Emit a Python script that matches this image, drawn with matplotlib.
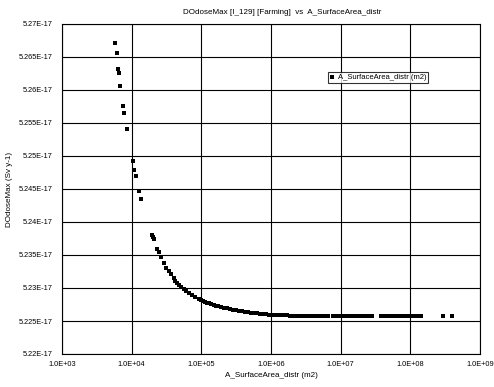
import matplotlib
matplotlib.use("Agg")
import matplotlib.pyplot as plt
from matplotlib.ticker import FixedLocator, FuncFormatter

plt.rcParams['font.family'] = ['Liberation Sans', 'DejaVu Sans']

title = "DOdoseMax [I_129] [Farming]  vs  A_SurfaceArea_distr"
xlabel = "A_SurfaceArea_distr (m2)"
ylabel = "DOdoseMax (Sv y-1)"
series_name = "A_SurfaceArea_distr (m2)"

surface_area = [
    5.82e3, 6.07e3, 6.43e3, 6.49e3, 6.87e3, 7.57e3, 7.83e3, 8.57e3,
    1.03e4, 1.08e4, 1.14e4, 1.26e4, 1.34e4, 1.95e4, 2.00e4, 2.06e4,
    2.31e4, 2.43e4, 2.63e4, 2.87e4, 3.13e4, 3.38e4, 3.66e4, 3.99e4,
    4.22e4, 4.47e4, 4.82e4, 5.15e4, 5.56e4, 6.01e4, 6.55e4, 7.33e4,
    8.17e4, 9.12e4,
    9.97e4, 1.06e5, 1.14e5, 1.22e5, 1.30e5, 1.39e5, 1.53e5, 1.64e5,
    1.75e5, 1.93e5, 2.13e5, 2.35e5, 2.59e5, 2.86e5, 3.16e5, 3.49e5,
    3.86e5, 4.26e5, 4.71e5, 5.20e5, 5.74e5, 6.34e5, 7.00e5, 7.73e5,
    8.53e5, 9.42e5, 1.04e6, 1.15e6, 1.27e6, 1.40e6, 1.55e6, 1.71e6,
    1.88e6, 2.08e6, 2.30e6, 2.62e6, 2.90e6, 3.20e6, 3.53e6, 3.90e6,
    4.45e6, 5.08e6, 5.80e6, 6.61e6, 7.80e6, 8.91e6, 1.02e7, 1.16e7,
    1.32e7, 1.51e7, 1.73e7, 1.97e7, 2.24e7, 2.56e7, 2.83e7, 3.81e7,
    4.35e7, 4.96e7, 5.66e7, 6.47e7, 7.38e7, 8.42e7, 9.61e7, 1.10e8,
    1.25e8, 1.43e8, 2.95e8, 3.97e8,
]

dose_max = [
    5.26717, 5.26565, 5.26318, 5.26258, 5.26065, 5.25762, 5.25647, 5.25414,
    5.24920, 5.24788, 5.24690, 5.24465, 5.24353, 5.23803, 5.23780, 5.23743,
    5.23591, 5.23550, 5.23475, 5.23374, 5.23308, 5.23262, 5.23212, 5.23147,
    5.23106, 5.23080, 5.23046, 5.23020, 5.22985, 5.22955, 5.22929, 5.22894,
    5.22860, 5.22834,
    5.22820, 5.22800, 5.22790, 5.22780, 5.22770, 5.22760, 5.22740, 5.22730,
    5.22720, 5.22710, 5.22700, 5.22690, 5.22680, 5.22670, 5.22660, 5.22655,
    5.22650, 5.22640, 5.22630, 5.22625, 5.22620, 5.22615, 5.22610, 5.22605,
    5.22600, 5.22597, 5.22594, 5.22591, 5.22589, 5.22587, 5.22585, 5.22584,
    5.22583, 5.22582, 5.22581, 5.22580, 5.22579, 5.22579, 5.22578, 5.22578,
    5.22577, 5.22577, 5.22577, 5.22576, 5.22576, 5.22576, 5.22576, 5.22576,
    5.22576, 5.22576, 5.22576, 5.22576, 5.22576, 5.22576, 5.22576, 5.22576,
    5.22576, 5.22576, 5.22576, 5.22576, 5.22576, 5.22576, 5.22576, 5.22576,
    5.22576, 5.22576, 5.22576, 5.22576,
]
dose_scale = 1e-17

x_ticks = [1e3, 1e4, 1e5, 1e6, 1e7, 1e8, 1e9]
y_ticks = [5.22, 5.225, 5.23, 5.235, 5.24, 5.245, 5.25, 5.255, 5.26, 5.265, 5.27]

W, H = 494, 387
fig = plt.figure(figsize=(W / 100, H / 100), dpi=100)
ax = fig.add_axes([62 / W, 1 - 354 / H, (480 - 62) / W, (354 - 24) / H])

yvals = [v * dose_scale for v in dose_max]
ax.plot(surface_area, yvals, linestyle='none', marker='s', markersize=2.6,
        color='black', markeredgewidth=0, label=series_name)

ax.set_xscale('log')
ax.set_xlim(1e3, 1e9)
ax.set_ylim(y_ticks[0] * dose_scale, y_ticks[-1] * dose_scale)
ax.xaxis.set_major_locator(FixedLocator(x_ticks))
ax.xaxis.set_minor_locator(FixedLocator([]))
ax.yaxis.set_major_locator(FixedLocator([t * dose_scale for t in y_ticks]))
ax.xaxis.set_major_formatter(FuncFormatter(lambda v, p: "%.1E" % v))
ax.yaxis.set_major_formatter(FuncFormatter(
    lambda v, p: ("%g" % round(v / dose_scale, 4)) + "E-17"))

ax.grid(True, which='major', color='black', linewidth=0.8)
ax.set_axisbelow(True)
ax.tick_params(axis='both', length=0, labelsize=5.3)
ax.tick_params(axis='y', pad=7)
ax.tick_params(axis='x', pad=5)
for s in ax.spines.values():
    s.set_linewidth(0.8)
    s.set_color('black')

fig.text(282 / W, 1 - 13 / H, title, fontsize=5.8, ha='center', va='center')
ax.set_xlabel(xlabel, fontsize=5.8, labelpad=3)
ax.set_ylabel(ylabel, fontsize=5.8, labelpad=4)

leg = fig.legend(loc='upper left', bbox_to_anchor=(328 / W, 1 - 72 / H),
                 fontsize=5.5, frameon=True, fancybox=False, borderpad=0.25,
                 handlelength=0.6, handletextpad=0.4, borderaxespad=0,
                 markerscale=0.9)
leg.get_frame().set_edgecolor('black')
leg.get_frame().set_linewidth(0.8)

fig.savefig("out.png", dpi=100)
